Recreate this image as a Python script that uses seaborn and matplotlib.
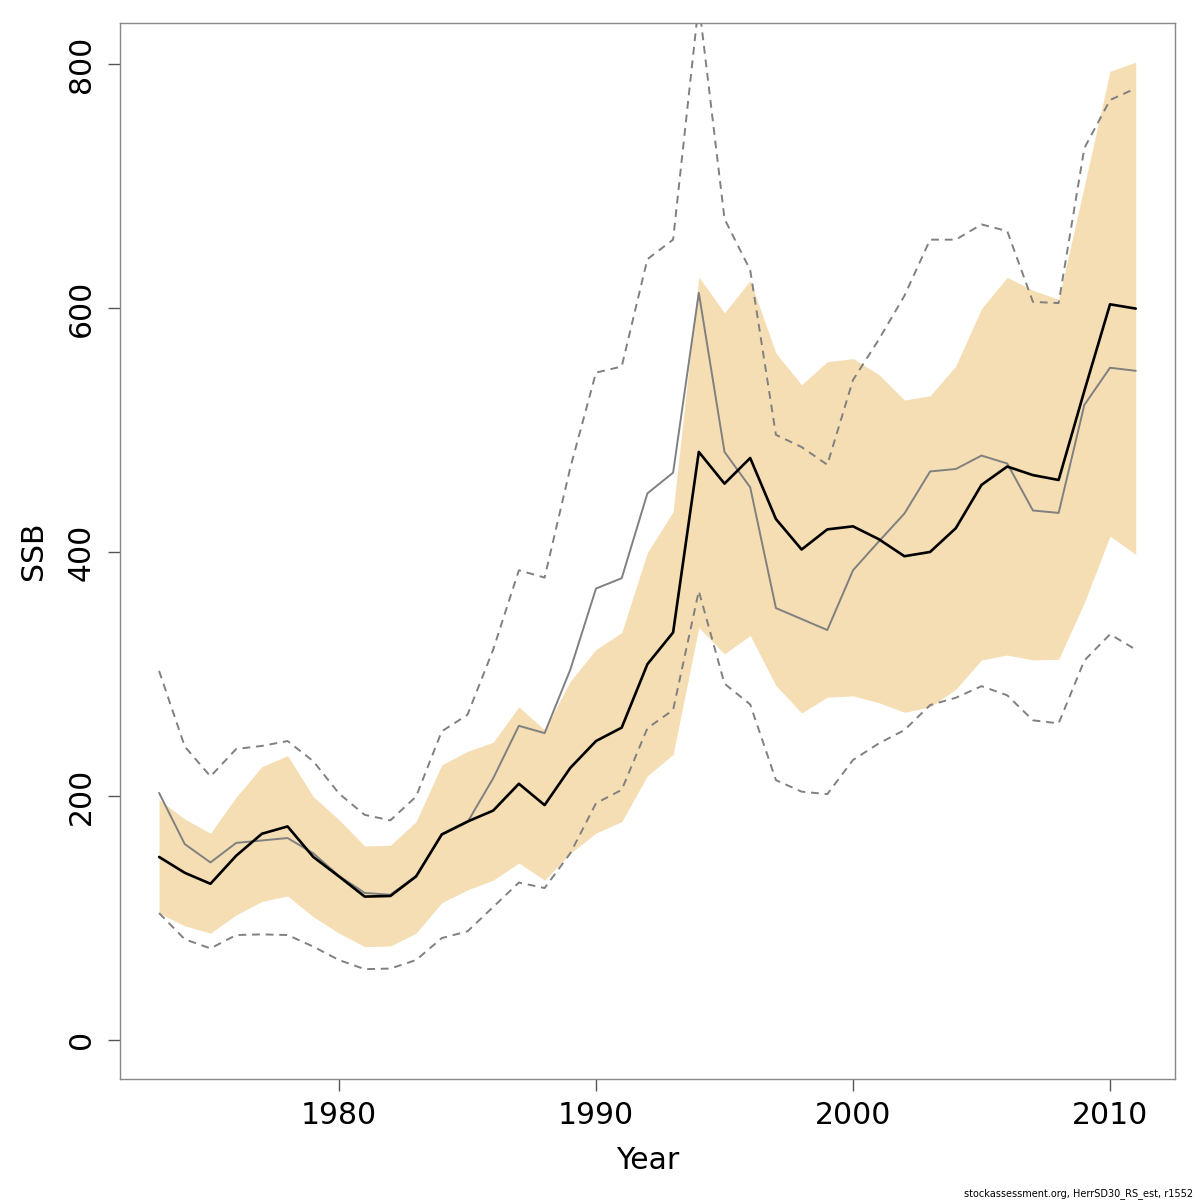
import matplotlib
matplotlib.use("Agg")
import matplotlib.pyplot as plt
import seaborn as sns
import pandas as pd

years = list(range(1973, 2012))

ssb = [150, 137, 128, 151, 169, 175, 150, 134, 117.5, 118, 134, 168.5, 179,
       188, 210, 192.5, 223, 245, 256, 308, 334, 482, 456, 477, 427, 402,
       418.5, 421, 410.5, 396.5, 400, 419.5, 455, 470, 463, 459, 532, 603, 599.5]

band_low = [104, 93.5, 87.5, 102.5, 113.5, 118, 101, 87.5, 76.5, 77, 87.5, 112.5, 123,
            131, 145, 131, 153, 169.5, 179, 216.5, 234, 338, 316.5, 331.5, 290.5, 268,
            281, 282, 276.5, 268.5, 273, 287.5, 311.5, 315.5, 311.5, 312, 358.5, 413, 398]

band_high = [197, 181, 169.5, 199, 224, 233, 199.5, 180.5, 159, 159.5, 179, 225.5, 236.5,
             244, 273, 254, 294, 320, 334, 399.5, 433, 625.5, 596, 622.5, 563, 537,
             556, 558.5, 545.5, 524.5, 528, 552.5, 599.5, 625, 614.5, 607, 700, 794, 801.5]

ssb_alt = [202.5, 160.5, 145.5, 161.5, 163.5, 165.5, 153, 134.5, 120.5, 119, 134.5, 168, 178.5,
           214.5, 257.5, 251.5, 303.5, 370, 378.5, 448, 465, 612.5, 482, 453, 354, 345,
           336, 385, 408.5, 431.5, 466, 468, 479, 472.5, 434, 432, 520.5, 551, 548.5]

alt_low = [104, 82.5, 75, 86, 86.5, 86, 76.5, 65.5, 58, 58.5, 65.5, 83.5, 89,
           109, 129, 124.5, 153, 194, 205, 255.5, 270.5, 368, 292, 275, 213, 203.5,
           201.5, 229.5, 243, 254, 274.5, 280.5, 290, 282.5, 262, 259.5, 311, 332.5, 320]

alt_high = [302.5, 240.5, 216, 238.5, 241, 245, 228.5, 202, 184.5, 180, 199.5, 253, 266.5,
            320, 385, 379, 469, 547, 552, 640, 656, 850, 673, 631, 496, 486,
            471.5, 541, 574, 610, 656, 656, 668.5, 663, 605, 604, 731, 770.5, 780]

df = pd.DataFrame({"Year": years, "SSB": ssb, "low": band_low, "high": band_high,
                   "alt": ssb_alt, "alt_low": alt_low, "alt_high": alt_high})

sns.set_style("white")
plt.rcParams["font.family"] = ["DejaVu Sans"]
plt.rcParams["text.color"] = "black"
plt.rcParams["axes.labelcolor"] = "black"
plt.rcParams["xtick.labelcolor"] = "black"
plt.rcParams["ytick.labelcolor"] = "black"

fig = plt.figure(figsize=(12, 12), dpi=100)
ax = fig.add_axes([0.1, 0.1008, 0.879, 0.8800])

# confidence band
ax.fill_between(df["Year"], df["low"], df["high"], color="#F5DEB3", linewidth=0, zorder=1)
# alternative run with its interval
sns.lineplot(data=df, x="Year", y="alt_high", color="#808080", linewidth=1.4,
             linestyle=(0, (4, 3)), ax=ax, zorder=2)
sns.lineplot(data=df, x="Year", y="alt_low", color="#808080", linewidth=1.4,
             linestyle=(0, (4, 3)), ax=ax, zorder=2)
sns.lineplot(data=df, x="Year", y="alt", color="#808080", linewidth=1.4, ax=ax, zorder=3)
sns.lineplot(data=df, x="Year", y="SSB", color="black", linewidth=1.9, ax=ax, zorder=4)

ax.set_xlim(1971.48, 2012.52)
ax.set_ylim(-32.06, 833.56)
ax.set_xticks([1980, 1990, 2000, 2010])
ax.set_yticks([0, 200, 400, 600, 800])
ax.tick_params(axis="both", direction="out", length=8.6, width=1.0, color="#555555",
               labelsize=21.5, labelcolor="black", bottom=True, left=True)
ax.tick_params(axis="x", pad=7)
ax.tick_params(axis="y", pad=9)
for lab in ax.get_yticklabels():
    lab.set_rotation(90)
    lab.set_va("center")
for side in ["top", "right", "bottom", "left"]:
    ax.spines[side].set_color("#888888")
    ax.spines[side].set_linewidth(1.0)

ax.set_xlabel("Year", fontsize=21.5, labelpad=12, color="black")
ax.set_ylabel("SSB", fontsize=21.5, labelpad=13, color="black")

fig.text(0.994, 0.001, "stockassessment.org, HerrSD30_RS_est, r1552", fontsize=7,
         ha="right", va="bottom", color="black")

fig.savefig("out.png", dpi=100)
